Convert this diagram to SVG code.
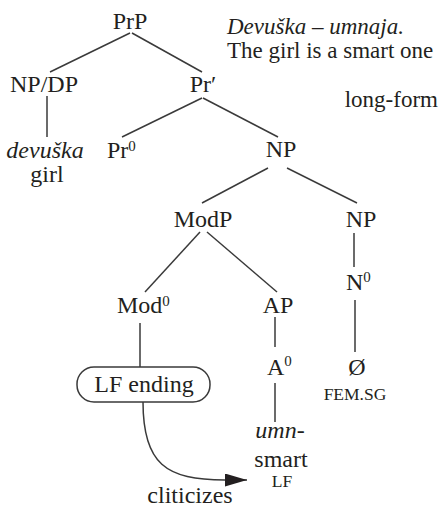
<svg xmlns="http://www.w3.org/2000/svg" width="440" height="509" viewBox="0 0 440 509" font-family="'Liberation Serif', 'DejaVu Serif', serif">
<style>
text{font-family:'Liberation Serif','DejaVu Serif',serif;fill:#231f20;font-size:24px}
.g{font-size:23px}
.n{text-anchor:middle}
.it{font-style:italic}
.sc{font-size:17.5px}
.sup{font-size:15px}
.e line,.e path{stroke:#3a3a3a;stroke-width:1.5;fill:none}
</style>
<defs>
<marker id="ah" markerUnits="userSpaceOnUse" markerWidth="24" markerHeight="14" refX="22" refY="6.5" orient="auto">
<path d="M0,0 L22,6.5 L0,13 z" fill="#231f20"/>
</marker>
</defs>
<g class="e" id="connectors">
<line x1="130" y1="33" x2="50" y2="72"/>
<line x1="132" y1="33" x2="202" y2="72"/>
<line x1="47" y1="96" x2="47" y2="137"/>
<line x1="202" y1="98" x2="122" y2="137"/>
<line x1="203" y1="98" x2="278" y2="137"/>
<line x1="268" y1="168" x2="202" y2="203"/>
<line x1="287" y1="168" x2="357" y2="203"/>
<line x1="200" y1="232" x2="145" y2="292"/>
<line x1="207" y1="232" x2="277" y2="292"/>
<line x1="354" y1="233" x2="354" y2="267"/>
<line x1="140" y1="323" x2="140" y2="367"/>
<line x1="275" y1="317" x2="275" y2="347"/>
<line x1="355" y1="300" x2="355" y2="352"/>
<line x1="275" y1="383" x2="275" y2="422"/>
<path d="M143,402 C143,464 166,480 225,480 L247,480" marker-end="url(#ah)"/>
</g>
<g id="prp"><text class="n" x="130" y="29">PrP</text></g>
<g id="npdp"><text class="n" x="44" y="92">NP/DP</text></g>
<g id="prbar"><text class="n" x="203" y="92">Pr′</text></g>
<g id="devuska"><text class="n it" x="45" y="158">devuška</text><text class="n" x="47" y="182">girl</text></g>
<g id="pr0"><text x="107" y="158">Pr<tspan class="sup" dy="-7">0</tspan></text></g>
<g id="np1"><text class="n" x="281" y="157">NP</text></g>
<g id="gloss"><text class="it g" x="227" y="34">Devuška – umnaja.</text><text class="g" x="227" y="58">The girl is a smart one</text><text class="g" x="438" y="107" text-anchor="end">long-form</text></g>
<g id="modp"><text class="n" x="203" y="227">ModP</text></g>
<g id="np2"><text class="n" x="361" y="227">NP</text></g>
<g id="mod0"><text x="117" y="313">Mod<tspan class="sup" dy="-7">0</tspan></text></g>
<g id="ap"><text class="n" x="278" y="313">AP</text></g>
<g id="n0"><text x="346" y="290">N<tspan class="sup" dy="-8">0</tspan></text></g>
<g id="a0"><text x="267" y="375">A<tspan class="sup" dy="-9">0</tspan></text></g>
<g id="null"><text class="n" x="357" y="375">Ø</text><text class="n sc" x="355" y="400">FEM.SG</text></g>
<g id="lfending"><rect x="77" y="367" width="133" height="35" rx="17" ry="17" fill="#fff" stroke="#3a3a3a" stroke-width="1.5"/><text class="n" x="144" y="392">LF ending</text></g>
<g id="umn"><text class="n it" x="280" y="438">umn-</text><text class="n" x="281" y="467">smart</text><text class="n sc" x="282" y="487">LF</text></g>
<g id="cliticizes"><text class="n" x="190" y="503">cliticizes</text></g>
</svg>
